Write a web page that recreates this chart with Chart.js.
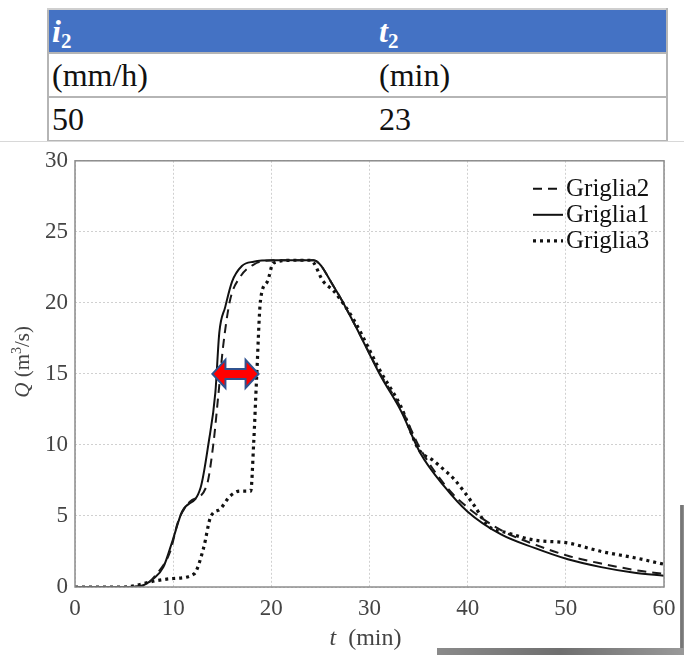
<!DOCTYPE html>
<html>
<head>
<meta charset="utf-8">
<script src="https://cdn.jsdelivr.net/npm/chart.js@4.4.0/dist/chart.umd.min.js"></script>
<style>
  body { margin: 0; background: #fff; width: 684px; height: 655px; position: relative; overflow: hidden; }
  #tab { position: absolute; left: 47px; top: 8px; width: 621px; border-collapse: collapse;
         font-family: "Liberation Serif", "DejaVu Serif", serif; font-size: 32px; color: #111; }
  #tab td { border: 2px solid #b5b5b5; border-left: none; border-right: none; padding: 0 0 0 3px; height: 42px; line-height: 40px; }
  #tab tr:first-child td { background: #4472c4; color: #fff; font-weight: bold; font-style: italic; border-top: 2px solid #cfcfcf; }
  #tab tr td:first-child { border-left: 2px solid #b5b5b5; width: 324px; }
  #tab tr td:last-child { border-right: 2px solid #b5b5b5; }
  #tab sub { font-size: 21px; font-style: normal; vertical-align: -6px; line-height: 0; }
  #wrap { position: absolute; left: 0; top: 140px; width: 684px; height: 515px; }
  #topline { position: absolute; left: 0; top: 141px; width: 684px; height: 1px; background: #d8d8d8; }
  .shade { position: absolute; background: linear-gradient(90deg, #8a8a8a, #6f6f6f, #999); }
</style>
</head>
<body>
<table id="tab">
  <tr><td>i<sub>2</sub></td><td>t<sub>2</sub></td></tr>
  <tr><td>(mm/h)</td><td>(min)</td></tr>
  <tr><td>50</td><td>23</td></tr>
</table>
<div id="topline"></div>
<div id="wrap"><canvas id="chart-area" width="684" height="515"></canvas></div>
<div class="shade" style="left:680px;top:505px;width:4px;height:150px;"></div>
<div class="shade" style="left:437px;top:648px;width:247px;height:7px;"></div>
<script>
// Griglia1 (solid)
var t1 = [0, 5, 6.6, 8, 9, 10, 10.9, 12.8, 13.6, 14.3, 14.7, 15.3, 16, 17, 18.2, 20.2, 22, 24.3, 26.4, 28.4, 31.1, 33.2, 35.2, 37.6, 40, 43.4, 46.8, 50.2, 53.6, 57, 60];
var q1 = [0, 0, 0.05, 0.6, 1.4, 3.4, 5.3, 7.0, 10.1, 13.7, 17.9, 19.7, 21.5, 22.6, 22.9, 23.0, 23.0, 23.0, 21.1, 18.6, 14.9, 12.4, 9.4, 7.1, 5.3, 3.7, 2.75, 1.95, 1.4, 1.0, 0.8];
// Griglia2 (dashed)
var t2 = [0, 5, 7, 8.3, 9.7, 10.5, 11.7, 13.4, 14.1, 14.6, 15.1, 15.8, 16.8, 18.2, 20.2, 22, 24.3, 26.4, 28.4, 31.1, 33.2, 35.2, 37.9, 40, 43.4, 46.8, 50.2, 53.6, 57, 60];
var q2 = [0, 0, 0.1, 0.9, 2.5, 4.6, 6.0, 7.1, 10.1, 13.5, 17.0, 20.2, 21.8, 22.7, 23.0, 23.0, 23.0, 21.1, 18.6, 15.0, 12.6, 9.7, 7.0, 5.6, 4.0, 3.0, 2.2, 1.65, 1.2, 0.92];
// Griglia3 (dotted)
var t3 = [0, 5, 8.3, 10, 12.1, 13.1, 13.8, 14.8, 15.8, 16.8, 17.9, 18.2, 18.5, 18.9, 19.6, 20.2, 22.3, 24, 25.3, 26.4, 28.4, 31.1, 33.2, 35, 36.5, 37.6, 38.6, 40.7, 42, 44.1, 46.8, 50.2, 53.6, 57, 60];
var q3 = [0, 0, 0.45, 0.6, 0.9, 2.75, 4.9, 5.5, 6.4, 6.75, 6.75, 10.1, 14.7, 20.2, 21.5, 22.8, 23.0, 23.0, 21.5, 20.8, 18.8, 15.2, 12.7, 9.7, 8.9, 8.25, 7.6, 5.7, 4.35, 3.8, 3.3, 3.1, 2.5, 2.06, 1.6];

var seriesNames = ['Griglia2', 'Griglia1', 'Griglia3'];
var xTicks = [0, 10, 20, 30, 40, 50, 60];
var yTicks = [0, 5, 10, 15, 20, 25, 30];
// red arrow between Griglia1 and Griglia3 at Q = 15
var arrowFrom = 14.0, arrowTo = 18.7, arrowQ = 15;

function pts(t, q) {
  var out = [];
  for (var i = 0; i < t.length; i++) out.push({ x: t[i], y: q[i] });
  return out;
}

var serif = '"Liberation Serif", "DejaVu Serif", serif';

var extras = {
  id: 'extras',
  afterDatasetsDraw: function (chart) {
    var c = chart.ctx, a = chart.chartArea;
    var xs = chart.scales.x, ys = chart.scales.y;
    c.save();
    // plot box
    c.strokeStyle = '#8c8c8c';
    c.lineWidth = 1.5;
    c.strokeRect(a.left, a.top, a.right - a.left, a.bottom - a.top);

    // double arrow
    var x1 = xs.getPixelForValue(arrowFrom), x2 = xs.getPixelForValue(arrowTo), yc = ys.getPixelForValue(arrowQ);
    var hl = 13, hh = 14, sh = 5;
    c.beginPath();
    c.moveTo(x1, yc);
    c.lineTo(x1 + hl, yc - hh);
    c.lineTo(x1 + hl, yc - sh);
    c.lineTo(x2 - hl, yc - sh);
    c.lineTo(x2 - hl, yc - hh);
    c.lineTo(x2, yc);
    c.lineTo(x2 - hl, yc + hh);
    c.lineTo(x2 - hl, yc + sh);
    c.lineTo(x1 + hl, yc + sh);
    c.lineTo(x1 + hl, yc + hh);
    c.closePath();
    c.fillStyle = '#ff0000';
    c.fill();
    c.strokeStyle = '#2f528f';
    c.lineWidth = 2;
    c.stroke();

    // legend
    var lx = a.right - 131, ly = a.top + 28;
    c.font = '25px ' + serif;
    c.textBaseline = 'middle';
    c.fillStyle = '#111';
    chart.data.datasets.forEach(function (ds, i) {
      var yy = ly + i * 26;
      c.beginPath();
      c.strokeStyle = '#111';
      c.lineWidth = ds.borderWidth;
      c.setLineDash(ds.borderDash || []);
      c.moveTo(lx, yy);
      c.lineTo(lx + 30, yy);
      c.stroke();
      c.setLineDash([]);
      c.fillText(ds.label, lx + 33, yy + 1);
    });

    // axis titles
    c.fillStyle = '#444';
    c.textBaseline = 'alphabetic';
    var xt = (a.left + a.right) / 2 - 4, yt = a.bottom + 58;
    c.font = 'italic 24px ' + serif;
    var w1 = c.measureText('t').width + 12;
    c.font = '24px ' + serif;
    var w2 = c.measureText('(min)').width;
    var sx = xt - (w1 + w2) / 2;
    c.font = 'italic 24px ' + serif;
    c.fillText('t', sx, yt);
    c.font = '24px ' + serif;
    c.fillText('(min)', sx + w1, yt);

    c.translate(29, (a.top + a.bottom) / 2 - 12);
    c.rotate(-Math.PI / 2);
    c.font = 'italic 21px ' + serif;
    var q = 'Q ';
    var wq = c.measureText(q).width;
    c.font = '21px ' + serif;
    var wa = c.measureText('(m').width, wb = c.measureText('/s)').width;
    c.font = '14px ' + serif;
    var w3 = c.measureText('3').width;
    var tot = wq + wa + w3 + wb;
    var px = -tot / 2;
    c.font = 'italic 21px ' + serif;
    c.fillText(q, px, 0); px += wq;
    c.font = '21px ' + serif;
    c.fillText('(m', px, 0); px += wa;
    c.font = '14px ' + serif;
    c.fillText('3', px, -8); px += w3;
    c.font = '21px ' + serif;
    c.fillText('/s)', px, 0);
    c.restore();
  }
};

var config = {
  type: 'line',
  data: {
    datasets: [{
      label: seriesNames[0],
      data: pts(t2, q2),
      borderColor: '#1a1a1a',
      borderWidth: 2,
      borderDash: [9, 6],
      pointRadius: 0,
      cubicInterpolationMode: 'monotone'
    }, {
      label: seriesNames[1],
      data: pts(t1, q1),
      borderColor: '#111',
      borderWidth: 2,
      pointRadius: 0,
      cubicInterpolationMode: 'monotone'
    }, {
      label: seriesNames[2],
      data: pts(t3, q3),
      borderColor: '#111',
      borderWidth: 3.2,
      borderDash: [3, 4],
      pointRadius: 0,
      cubicInterpolationMode: 'monotone'
    }]
  },
  options: {
    responsive: false,
    animation: false,
    layout: { padding: { top: 10, right: 20, left: 0, bottom: 0 } },
    plugins: { legend: { display: false }, tooltip: { enabled: false } },
    scales: {
      x: {
        type: 'linear',
        min: 0, max: 60,
        afterBuildTicks: function (s) { s.ticks = xTicks.map(function (v) { return { value: v }; }); },
        afterFit: function (s) { s.height = 68; },
        grid: { color: '#d0d0d0', drawTicks: false },
        border: { display: false, dash: [2, 2] },
        ticks: { color: '#444', padding: 8, font: { family: serif, size: 23 } }
      },
      y: {
        min: 0, max: 30,
        afterBuildTicks: function (s) { s.ticks = yTicks.map(function (v) { return { value: v }; }); },
        afterFit: function (s) { s.width = 75; },
        grid: { color: '#d0d0d0', drawTicks: false },
        border: { display: false, dash: [2, 2] },
        ticks: { color: '#444', padding: 7, font: { family: serif, size: 23 } }
      }
    }
  },
  plugins: [extras]
};

var ctx = document.getElementById('chart-area').getContext('2d');
window.myChart = new Chart(ctx, config);
</script>
</body>
</html>
